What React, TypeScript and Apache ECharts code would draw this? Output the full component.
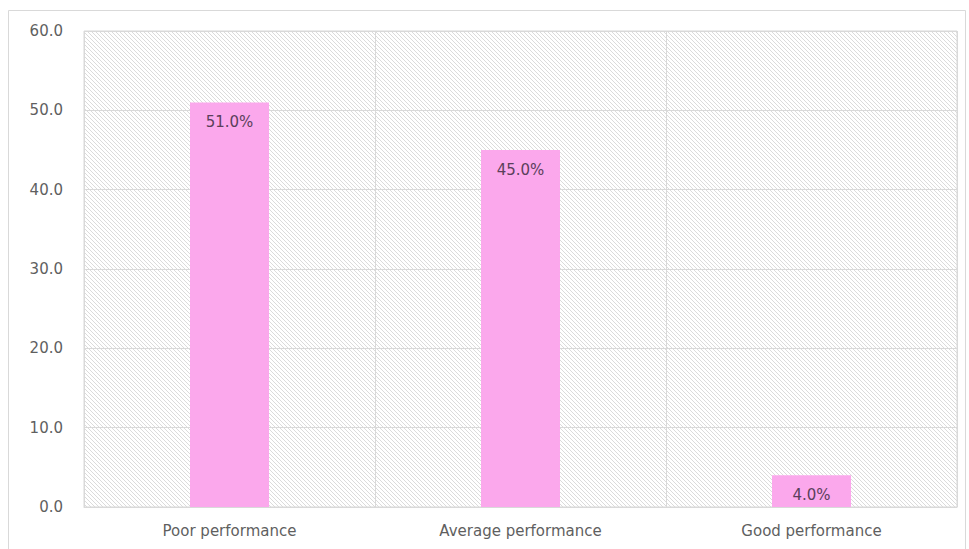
import React, { useEffect, useRef } from "react";
import * as echarts from "echarts";

const categories = ["Poor performance", "Average performance", "Good performance"];
const values = [51.0, 45.0, 4.0];
const yTicks = { min: 0, max: 60, interval: 10 };

function makeHatch(): HTMLCanvasElement {
  const c = document.createElement("canvas");
  c.width = 4;
  c.height = 4;
  const ctx = c.getContext("2d")!;
  ctx.fillStyle = "#ffffff";
  ctx.fillRect(0, 0, 4, 4);
  ctx.strokeStyle = "#dbdbdb";
  ctx.lineWidth = 1;
  ctx.beginPath();
  ctx.moveTo(-1, -1);
  ctx.lineTo(5, 5);
  ctx.moveTo(-1, 3);
  ctx.lineTo(1, 5);
  ctx.moveTo(3, -1);
  ctx.lineTo(5, 1);
  ctx.stroke();
  return c;
}

export default function App() {
  const ref = useRef<HTMLDivElement>(null);
  useEffect(() => {
    if (!ref.current) return;
    const chart = echarts.init(ref.current, undefined, { renderer: "svg" });
    const hatch = makeHatch();
    chart.setOption({
      animation: false,
      backgroundColor: "#ffffff",
      graphic: [
        {
          type: "rect",
          shape: { x: 8.5, y: 10.5, width: 957, height: 560 },
          style: { fill: "none", stroke: "#d9d9d9", lineWidth: 1 },
          silent: true,
          z: -10,
        },
      ],
      grid: {
        left: 84,
        top: 31,
        right: 12,
        bottom: 42,
        show: true,
        backgroundColor: { image: hatch, repeat: "repeat" },
        borderColor: "#d9d9d9",
        borderWidth: 1,
      },
      xAxis: {
        type: "category",
        data: categories,
        axisLine: { show: true, lineStyle: { color: "#d9d9d9" } },
        axisTick: { show: false },
        splitLine: { show: true, lineStyle: { color: "#d9d9d9", width: 1 } },
        axisLabel: {
          color: "#5f5f5f",
          fontSize: 15,
          fontFamily: "DejaVu Sans",
          margin: 16,
        },
      },
      yAxis: {
        type: "value",
        min: yTicks.min,
        max: yTicks.max,
        interval: yTicks.interval,
        axisLine: { show: false },
        axisTick: { show: false },
        splitLine: { show: true, lineStyle: { color: "#d9d9d9", width: 1 } },
        axisLabel: {
          color: "#5f5f5f",
          fontSize: 15,
          fontFamily: "DejaVu Sans",
          margin: 21,
          formatter: (v: number) => v.toFixed(1),
        },
      },
      series: [
        {
          type: "bar",
          data: values,
          barWidth: 79,
          itemStyle: { color: "#fba8ec" },
          label: {
            show: true,
            position: "insideTop",
            distance: 12,
            color: "#5a405a",
            fontSize: 15,
            fontFamily: "DejaVu Sans",
            formatter: (p: any) => Number(p.value).toFixed(1) + "%",
          },
        },
      ],
    });
    return () => chart.dispose();
  }, []);
  return (
    <div
      ref={ref}
      style={{ position: "fixed", left: 0, top: 0, width: 969, height: 549 }}
    />
  );
}
